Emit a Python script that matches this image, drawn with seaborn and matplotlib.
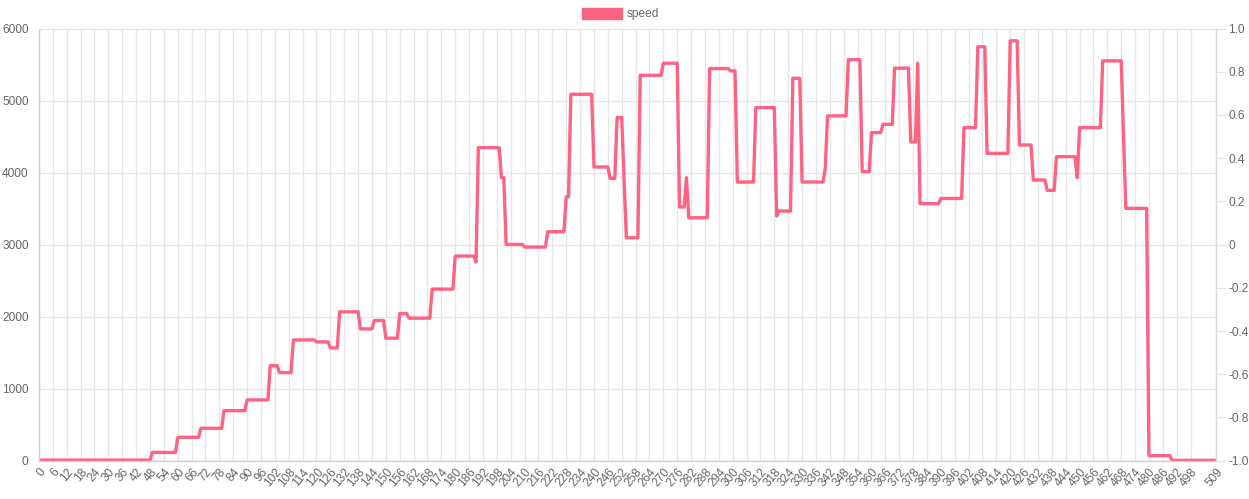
import numpy as np
import pandas as pd
import matplotlib
matplotlib.use('Agg')
import matplotlib.pyplot as plt
import seaborn as sns
from matplotlib.patches import Patch

# speed is a step signal: each level holds from its start index until the next start
seg_start = [0, 49, 60, 70, 80, 90, 100, 104, 110, 120, 126, 130, 139, 145, 150,
             156, 160, 170, 180, 189, 190, 200, 202, 210, 220, 228, 230, 240, 247,
             250, 253, 254, 260, 270, 277, 280, 281, 290, 299, 302, 310, 319, 320,
             326, 330, 340, 341, 350, 356, 360, 365, 370, 377, 380, 381, 390, 400,
             406, 410, 420, 424, 430, 436, 440, 449, 450, 460, 469, 470, 480, 490]
seg_speed = [8, 115, 325, 450, 695, 844, 1320, 1223, 1677, 1650, 1566, 2067, 1830, 1946, 1701,
             2043, 1979, 2382, 2841, 2758, 4346, 3929, 3002, 2966, 3179, 3665, 5087, 4078, 3920,
             4763, 3930, 3095, 5351, 5518, 3522, 3929, 3373, 5444, 5412, 3869, 4902, 3397, 3466,
             5309, 3869, 4050, 4787, 5569, 4013, 4555, 4670, 5449, 4425, 5518, 3568, 3641, 4624,
             5746, 4267, 5829, 4383, 3897, 3753, 4221, 3929, 4624, 5551, 4530, 3503, 70, 5]
n_points = 510

x_ticks = list(range(0, 499, 6)) + [509]
left_ticks = [0, 1000, 2000, 3000, 4000, 5000, 6000]
right_ticks = [-1.0, -0.8, -0.6, -0.4, -0.2, 0.0, 0.2, 0.4, 0.6, 0.8, 1.0]
right_labels = ['-1.0', '-0.8', '-0.6', '-0.4', '-0.2', '0', '0.2', '0.4', '0.6', '0.8', '1.0']

lengths = np.diff(seg_start + [n_points])
df = pd.DataFrame({'idx': np.arange(n_points), 'speed': np.repeat(seg_speed, lengths)})

sns.set_style('white')
plt.rcParams['font.family'] = ['Liberation Sans', 'DejaVu Sans']

line_color = '#ff6384'
grid_color = '#e6e6e6'
text_color = '#666666'
fs = 8.6

fig = plt.figure(figsize=(12.49, 4.99), dpi=100)
ax = fig.add_axes([39 / 1249, 38.3 / 499, 1177 / 1249, 432.2 / 499])

sns.lineplot(data=df, x='idx', y='speed', color=line_color, linewidth=2.4, ax=ax, legend=False)

ax.set_xlim(0, 509)
ax.set_ylim(0, 6000)
ax.set_xticks(x_ticks)
ax.set_xticklabels([str(t) for t in x_ticks], rotation=50, ha='right',
                   rotation_mode='anchor', fontsize=fs, color=text_color)
ax.set_yticks(left_ticks)
ax.set_yticklabels([str(t) for t in left_ticks], fontsize=fs, color=text_color)
ax.tick_params(axis='x', length=0, pad=4)
ax.tick_params(axis='y', length=0, pad=7.5)
ax.grid(True, color=grid_color, linewidth=1)
ax.set_axisbelow(True)
ax.set_xlabel('')
ax.set_ylabel('')
for side in ['top', 'right']:
    ax.spines[side].set_visible(False)
for side in ['left', 'bottom']:
    ax.spines[side].set_color('#cfcfcf')
    ax.spines[side].set_linewidth(1)

ax2 = ax.twinx()
ax2.set_ylim(-1, 1)
ax2.set_yticks(right_ticks)
ax2.set_yticklabels(right_labels, fontsize=fs, color=text_color)
ax2.tick_params(axis='y', length=7, width=1, color=grid_color, pad=2)
ax2.grid(False)
for side in ['top', 'left', 'bottom']:
    ax2.spines[side].set_visible(False)
ax2.spines['right'].set_color('#d9d9d9')
ax2.spines['right'].set_linewidth(1)

fig.legend(handles=[Patch(facecolor=line_color, edgecolor=line_color)], labels=['speed'],
           loc='center', bbox_to_anchor=(0.497, 0.972), frameon=False,
           handlelength=3.3, handleheight=1.1, handletextpad=0.45,
           fontsize=fs, labelcolor=text_color)

fig.savefig('out.png', dpi=100)
